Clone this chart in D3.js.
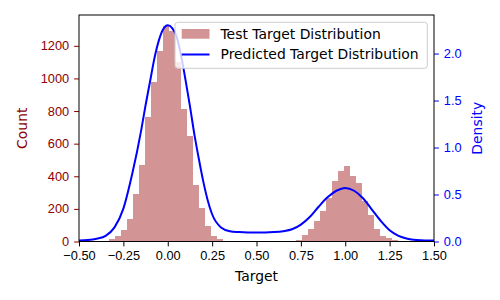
<!DOCTYPE html>
<html>
<head>
<meta charset="utf-8">
<script src="https://cdn.jsdelivr.net/npm/d3@7"></script>
<style>
	body { margin: 0; background: #fff; }
	svg { font-family: 'DejaVu Sans', sans-serif; }
</style>
</head>
<body>
<svg id="chart" width="500" height="300"></svg>
<script>
// histogram of test targets (two clusters, same bin width)
var binWidth = 0.0338;
var lowStart = -0.3665;
var lowCounts = [6, 17, 34, 72, 135, 292, 470, 764, 980, 1170, 1322, 1290, 1100, 814, 649, 349, 208, 98, 31, 18, 6, 3];
var highStart = 0.6904;
var highCounts = [6, 12, 38, 78, 128, 185, 266, 374, 433, 460, 403, 359, 250, 164, 78, 35, 19, 8, 3];

// predicted density
var densityX = [-0.5, -0.45, -0.4, -0.35, -0.3, -0.25, -0.2, -0.15, -0.125, -0.1, -0.075, -0.05, -0.025, 0, 0.025, 0.05, 0.075, 0.1, 0.125, 0.15, 0.175, 0.2, 0.225, 0.25, 0.3, 0.35, 0.4, 0.45, 0.5, 0.55, 0.6, 0.65, 0.7, 0.75, 0.8, 0.85, 0.9, 0.95, 1.0, 1.05, 1.1, 1.15, 1.2, 1.25, 1.3, 1.35, 1.4, 1.45, 1.5];
var densityY = [0.01, 0.015, 0.03, 0.06, 0.15, 0.35, 0.72, 1.18, 1.45, 1.70, 1.95, 2.14, 2.26, 2.30, 2.27, 2.18, 1.98, 1.72, 1.44, 1.14, 0.88, 0.64, 0.44, 0.29, 0.15, 0.11, 0.10, 0.095, 0.095, 0.095, 0.10, 0.11, 0.13, 0.18, 0.26, 0.37, 0.47, 0.54, 0.57, 0.54, 0.46, 0.34, 0.22, 0.12, 0.06, 0.03, 0.015, 0.01, 0.01];

var xTicks = [-0.5, -0.25, 0, 0.25, 0.5, 0.75, 1.0, 1.25, 1.5];
var countTicks = [0, 200, 400, 600, 800, 1000, 1200];
var densityTicks = [0, 0.5, 1.0, 1.5, 2.0];

var pLeft = 79, pRight = 434, pTop = 15, pBottom = 241.5;
var tick = 4.9, pad = 4.9;

var svg = d3.select('#chart');

var x = d3.scaleLinear().domain([-0.5, 1.5]).range([pLeft, pRight]);
var yc = d3.scaleLinear().domain([0, 1389]).range([pBottom, pTop]);
var yd = d3.scaleLinear().domain([0, 2.41]).range([pBottom, pTop]);

svg.append('clipPath').attr('id', 'clip')
	.append('rect').attr('x', pLeft).attr('y', pTop).attr('width', pRight - pLeft).attr('height', pBottom - pTop);

var bins = [];
lowCounts.forEach(function(c, i) { bins.push({ x0: lowStart + i * binWidth, count: c }); });
highCounts.forEach(function(c, i) { bins.push({ x0: highStart + i * binWidth, count: c }); });

svg.append('g').attr('clip-path', 'url(#clip)').attr('shape-rendering', 'crispEdges')
	.selectAll('rect').data(bins).enter().append('rect')
	.attr('x', function(d) { return x(d.x0); })
	.attr('width', function(d) { return x(d.x0 + binWidth) - x(d.x0); })
	.attr('y', function(d) { return yc(d.count); })
	.attr('height', function(d) { return pBottom - yc(d.count); })
	.attr('fill', 'brown').attr('fill-opacity', 0.5);

var line = d3.line()
	.x(function(d, i) { return x(densityX[i]); })
	.y(function(d) { return yd(d); })
	.curve(d3.curveMonotoneX);

svg.append('g').attr('clip-path', 'url(#clip)')
	.append('path').datum(densityY).attr('d', line)
	.attr('fill', 'none').attr('stroke', 'blue').attr('stroke-width', 2);

function style(g, color, size) {
	g.select('.domain').remove();
	g.selectAll('line').attr('stroke', color).attr('stroke-width', 1);
	g.selectAll('text').attr('fill', color).style('font-size', size + 'px');
}

svg.append('g').attr('transform', 'translate(0,' + pBottom + ')')
	.call(d3.axisBottom(x).tickValues(xTicks).tickFormat(d3.format('.2f')).tickSize(tick).tickPadding(pad))
	.call(style, '#000', 12.8);

svg.append('g').attr('transform', 'translate(' + pLeft + ',0)')
	.call(d3.axisLeft(yc).tickValues(countTicks).tickFormat(d3.format('d')).tickSize(tick).tickPadding(pad))
	.call(style, '#8b0000', 12.8);

svg.append('g').attr('transform', 'translate(' + pRight + ',0)')
	.call(d3.axisRight(yd).tickValues(densityTicks).tickFormat(d3.format('.1f')).tickSize(tick).tickPadding(pad))
	.call(style, 'blue', 12.8);

svg.append('rect').attr('x', pLeft).attr('y', pTop).attr('width', pRight - pLeft).attr('height', pBottom - pTop)
	.attr('fill', 'none').attr('stroke', '#000').attr('stroke-width', 1);

svg.append('text').attr('x', (pLeft + pRight) / 2).attr('y', 281).attr('text-anchor', 'middle')
	.style('font-size', '13.9px').text('Target');

svg.append('text').attr('transform', 'translate(26.5,' + (pTop + pBottom) / 2 + ') rotate(-90)')
	.attr('text-anchor', 'middle').attr('fill', '#8b0000').style('font-size', '13.9px').text('Count');

svg.append('text').attr('transform', 'translate(481.8,' + (pTop + pBottom) / 2 + ') rotate(-90)')
	.attr('text-anchor', 'middle').attr('fill', 'blue').style('font-size', '13.9px').text('Density');

// legend
var lg = svg.append('g');
lg.append('rect').attr('x', 175).attr('y', 22.3).attr('width', 252.3).attr('height', 46).attr('rx', 2.8)
	.attr('fill', '#fff').attr('fill-opacity', 0.8).attr('stroke', '#ccc').attr('stroke-width', 1);
lg.append('rect').attr('x', 181.7).attr('y', 29).attr('width', 27.8).attr('height', 9.7)
	.attr('fill', 'brown').attr('fill-opacity', 0.5);
lg.append('line').attr('x1', 181.7).attr('x2', 209.5).attr('y1', 54.5).attr('y2', 54.5)
	.attr('stroke', 'blue').attr('stroke-width', 2);
lg.append('text').attr('x', 220.5).attr('y', 38.6).style('font-size', '13.9px').text('Test Target Distribution');
lg.append('text').attr('x', 220.5).attr('y', 59).style('font-size', '13.9px').text('Predicted Target Distribution');
</script>
</body>
</html>
